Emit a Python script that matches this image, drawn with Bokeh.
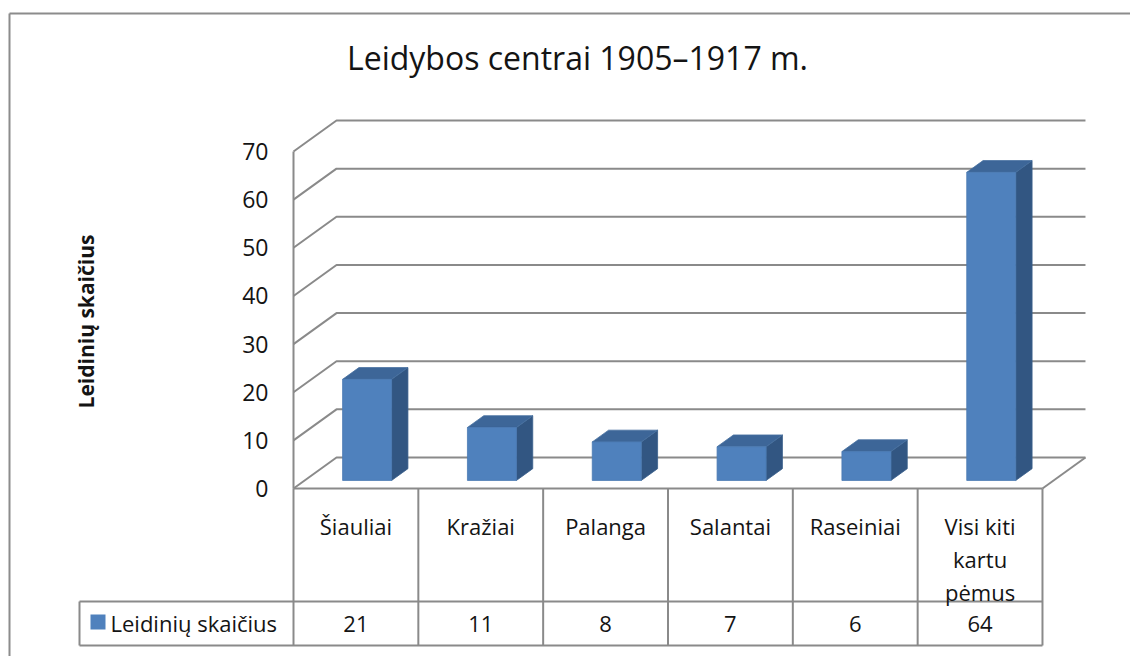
from bokeh.plotting import figure
from bokeh.models import Range1d
from bokeh.core.properties import value
from bokeh.embed import file_html
from bokeh.resources import INLINE
import math

# ---------------- data ----------------
title = "Leidybos centrai 1905–1917 m."
categories = ["Šiauliai", "Kražiai", "Palanga", "Salantai", "Raseiniai", "Visi kiti\nkartu\npėmus"]
series_name = "Leidinių skaičius"
values = [21, 11, 8, 7, 6, 64]
y_ticks = [0, 10, 20, 30, 40, 50, 60, 70]
y_title = "Leidinių skaičius"

# ---------------- layout ----------------
W, H = 1130, 656
OX, OY = 0, 0          # page offset of the figure
X0, Y0 = 293, 488      # screen position of (category 0 left edge, value 0 front)
PX = 124.83            # px per category
PY = 4.814             # px per value unit
FONT = "Open Sans"
TXT = "#141414"
GRID = "#8a8a8a"

def u(sx):
    return (sx - X0) / PX

def v(sy):
    return (Y0 - sy) / PY

DX = 43 / PX
DY = 31 / PY
N = len(categories)

p = figure(width=W, height=H,
           x_range=Range1d(u(OX), u(OX + W)),
           y_range=Range1d(v(OY + H), v(OY)),
           x_axis_type=None, y_axis_type=None,
           output_backend="svg", toolbar_location=None,
           min_border=0, outline_line_color=None)
p.grid.visible = False
p.background_fill_color = "white"
p.border_fill_color = "white"

# outer chart border (left and top visible)
p.line([u(9), u(9)], [v(13), v(720)], line_color="#8c8c8c", line_width=2)
p.line([u(9), u(1300)], [v(13), v(13)], line_color="#8c8c8c", line_width=2)

# 3D walls: gridlines on left wall and back wall
gx, gy = [], []
for t in y_ticks:
    gx.append([0, DX, N + DX])
    gy.append([t, t + DY, t + DY])
p.multi_line(gx, gy, line_color=GRID, line_width=2)
# left wall front edge
p.line([0, 0], [0, max(y_ticks)], line_color=GRID, line_width=2)
# floor right edge
p.line([N, N + DX], [0, DY], line_color=GRID, line_width=2)

# bars (3D columns)
T0, TD = 0.26, 0.38
bw = 49 / PX
fx, fy, tx, ty, sx_, sy_ = [], [], [], [], [], []
for i, val in enumerate(values):
    cx = i + 0.5 + T0 * DX
    yb = T0 * DY
    l, r = cx - bw / 2, cx + bw / 2
    ddx, ddy = TD * DX, TD * DY
    fx.append([l, r, r, l]); fy.append([yb, yb, yb + val, yb + val])
    tx.append([l, r, r + ddx, l + ddx]); ty.append([yb + val, yb + val, yb + val + ddy, yb + val + ddy])
    sx_.append([r, r + ddx, r + ddx, r]); sy_.append([yb, yb + ddy, yb + val + ddy, yb + val])
p.patches(sx_, sy_, fill_color="#325682", line_color="#3a5f8c", line_width=0.8)
p.patches(tx, ty, fill_color="#3d6698", line_color="#46709f", line_width=0.8)
p.patches(fx, fy, fill_color="#4f81bd", line_color="#4a7ab3", line_width=0.8)

# y tick labels
p.text(x=[u(268)] * len(y_ticks), y=y_ticks, text=[str(t) for t in y_ticks],
       text_font=value(FONT), text_font_size="23px", text_color=TXT,
       text_align="right", text_baseline="middle")

# data table
v_row = v(601)
v_bot = v(645)
u_leg = u(79)
tbx = [[0, N], [u_leg, N], [u_leg, N], [u_leg, u_leg]]
tby = [[0, 0], [v_row, v_row], [v_bot, v_bot], [v_row, v_bot]]
for i in range(N + 1):
    tbx.append([i, i]); tby.append([0, v_bot])
p.multi_line(tbx, tby, line_color=GRID, line_width=2)

# category labels (multi-line split)
cx_l, cy_l, ct_l = [], [], []
for i, c in enumerate(categories):
    for k, line in enumerate(c.split("\n")):
        cx_l.append(i + 0.5); cy_l.append(v(525 + 33 * k)); ct_l.append(line)
p.text(x=cx_l, y=cy_l, text=ct_l, text_font=value(FONT), text_font_size="22px",
       text_color=TXT, text_align="center", text_baseline="middle")

# value row
p.text(x=[i + 0.5 for i in range(N)], y=[v(623)] * N, text=[str(x) for x in values],
       text_font=value(FONT), text_font_size="22px", text_color=TXT,
       text_align="center", text_baseline="middle")

# legend key in table
p.quad(left=[u(90)], right=[u(105)], bottom=[v(629)], top=[v(614)],
       fill_color="#4f81bd", line_color=None)
p.text(x=[u(110)], y=[v(622)], text=[series_name], text_font=value(FONT),
       text_font_size="22px", text_color=TXT, text_align="left", text_baseline="middle")

# title
p.text(x=[u(577)], y=[v(57)], text=[title], text_font=value(FONT), text_font_size="32px",
       text_color=TXT, text_align="center", text_baseline="middle")

# y axis title
p.text(x=[u(85)], y=[v(321)], text=[y_title], text_font=value(FONT), text_font_size="21px",
       text_font_style="bold", text_color=TXT, text_align="center", text_baseline="middle",
       angle=math.pi / 2)

open("out.html", "w").write(file_html(p, INLINE))
